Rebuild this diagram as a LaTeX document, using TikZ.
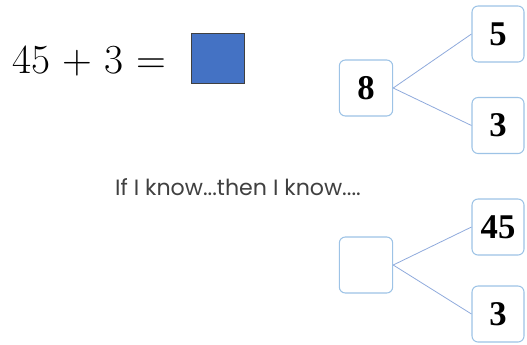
\documentclass[tikz,border=0pt]{standalone}
\usepackage{fontspec}
\newfontfamily\gothic{Poppins}
\newfontfamily\numfont{Liberation Serif}
\usetikzlibrary{positioning}
\definecolor{bxEdge}{HTML}{9DC3E6}
\definecolor{bxLine}{HTML}{8FAADC}
\definecolor{eqBlue}{HTML}{4472C4}
\definecolor{txGrey}{HTML}{404040}

\begin{document}
\begin{tikzpicture}[x=0.75pt,y=-0.75pt,
      b/.style={draw=bxEdge,rounded corners=4.5pt,line width=0.8pt,fill=white,
                minimum width=39pt,minimum height=42pt,inner sep=0pt,
                font=\numfont\bfseries\fontsize{26}{26}\selectfont}]
    \useasboundingbox (0,0) rectangle (527,344);

    % equation
    \node[anchor=base west,inner sep=0pt,font=\fontsize{31}{31}\selectfont] (eq) at (12,73) {45 + 3 =};
    \node[draw=black!75,fill=eqBlue,line width=0.8pt,minimum width=40pt,minimum height=38pt,inner sep=0pt] (sq) at (218,58.5) {};

    % top bond
    \node[b,minimum width=40pt] (w1) at (366,88)  {8};
    \node[b] (p1) at (498,34)  {5};
    \node[b] (q1) at (498,125.5) {3};

    % caption
    \node[anchor=base,inner sep=0pt,text=txGrey,font=\gothic\fontsize{16.6}{16.6}\selectfont] (cap) at (238,195) {If I know...then I know....};

    % bottom bond
    \node[b,minimum width=40pt] (w2) at (366,265) {};
    \node[b] (p2) at (498,227) {45};
    \node[b] (q2) at (498,314) {3};

    \foreach \a/\b in {w1/p1,w1/q1,w2/p2,w2/q2}
      \draw[bxLine,line width=0.6pt] (\a.east) -- (\b.west);
  \end{tikzpicture}
\end{document}
